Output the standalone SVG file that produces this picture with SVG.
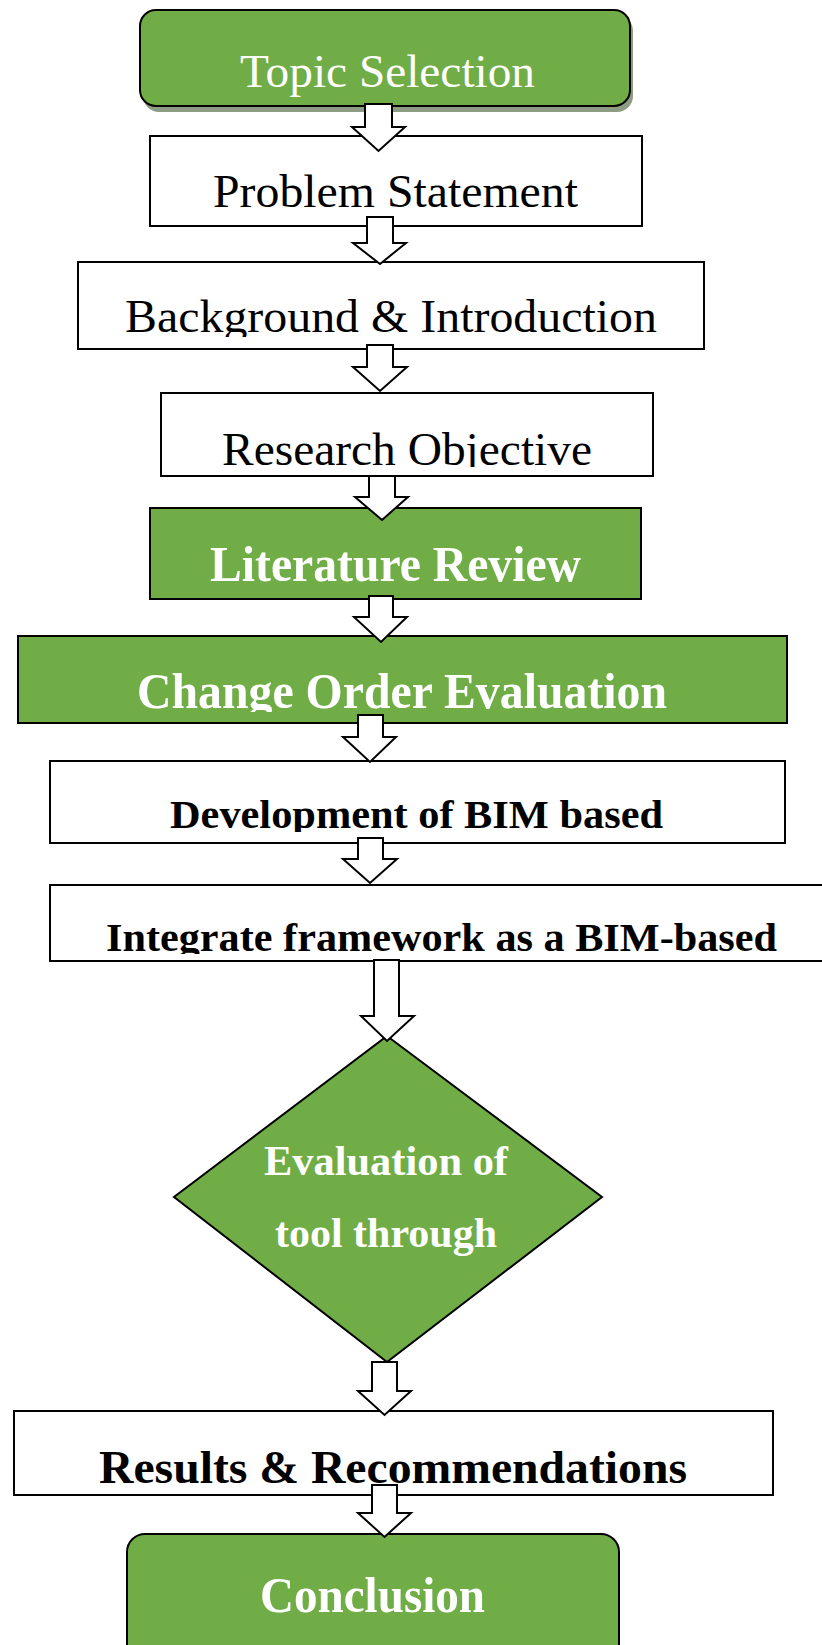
<svg xmlns="http://www.w3.org/2000/svg" width="822" height="1645" viewBox="0 0 822 1645">
  <style>
    .box { fill: #ffffff; stroke: #000000; stroke-width: 2; }
    .green { fill: #70AD47; stroke: #000000; stroke-width: 2; }
    .shadow { fill: #8d9c82; }
    .arrow { fill: #ffffff; stroke: #000000; stroke-width: 2; stroke-linejoin: miter; }
    .reg { font-family: "Liberation Serif", "Times New Roman", serif; fill: #000000; text-anchor: middle; }
    .bold { font-family: "Liberation Serif", "Times New Roman", serif; font-weight: bold; text-anchor: middle; }
    .dark { fill: #000000; }
    .light { fill: #ffffff; }
  </style>
  <defs>
    <!-- text frames cut off the descenders below the baseline -->
    <clipPath id="clipBackground"><rect x="0" y="262" width="822" height="75"/></clipPath>
    <clipPath id="clipResearch"><rect x="0" y="393" width="822" height="74"/></clipPath>
    <clipPath id="clipChange"><rect x="0" y="636" width="822" height="76"/></clipPath>
    <clipPath id="clipDevelopment"><rect x="0" y="761" width="822" height="71"/></clipPath>
    <clipPath id="clipIntegrate"><rect x="0" y="885" width="822" height="69"/></clipPath>
  </defs>

  <g id="topic-selection">
    <rect class="shadow" x="143" y="15" width="490" height="97" rx="16"/>
    <rect class="green" x="140" y="10" width="490" height="96" rx="16"/>
    <text class="reg light" style="fill:#ffffff" x="387.5" y="87" font-size="46" textLength="295" lengthAdjust="spacingAndGlyphs">Topic Selection</text>
  </g>

  <g id="problem-statement">
    <rect class="box" x="150" y="136" width="492" height="90"/>
    <text class="reg" x="395.5" y="207" font-size="47" textLength="365" lengthAdjust="spacingAndGlyphs">Problem Statement</text>
  </g>

  <g id="background-introduction">
    <rect class="box" x="78" y="262" width="626" height="87"/>
    <text class="reg" x="391" y="332" font-size="47" textLength="532" lengthAdjust="spacingAndGlyphs" clip-path="url(#clipBackground)">Background &amp; Introduction</text>
  </g>

  <g id="research-objective">
    <rect class="box" x="161" y="393" width="492" height="83"/>
    <text class="reg" x="407" y="465" font-size="47" textLength="370" lengthAdjust="spacingAndGlyphs" clip-path="url(#clipResearch)">Research Objective</text>
  </g>

  <g id="literature-review">
    <rect class="green" x="150" y="508" width="491" height="91"/>
    <text class="bold light" x="395.5" y="581" font-size="50" textLength="371" lengthAdjust="spacingAndGlyphs">Literature Review</text>
  </g>

  <g id="change-order-evaluation">
    <rect class="green" x="18" y="636" width="769" height="87"/>
    <text class="bold light" x="402" y="708" font-size="50" textLength="530" lengthAdjust="spacingAndGlyphs" clip-path="url(#clipChange)">Change Order Evaluation</text>
  </g>

  <g id="development-bim">
    <rect class="box" x="50" y="761" width="735" height="82"/>
    <text class="bold dark" x="416.5" y="828" font-size="41" textLength="493" lengthAdjust="spacingAndGlyphs" clip-path="url(#clipDevelopment)">Development of BIM based</text>
  </g>

  <g id="integrate-framework">
    <rect class="box" x="50" y="885" width="790" height="76"/>
    <text class="bold dark" x="441.5" y="951" font-size="40" textLength="671" lengthAdjust="spacingAndGlyphs" clip-path="url(#clipIntegrate)">Integrate framework as a BIM-based</text>
  </g>

  <g id="evaluation-decision">
    <polygon class="green" points="387,1036 602,1197 387,1362 174,1197"/>
    <text class="bold light" x="386" y="1175" font-size="42" textLength="244" lengthAdjust="spacingAndGlyphs">Evaluation of</text>
    <text class="bold light" x="386" y="1247" font-size="42" textLength="222" lengthAdjust="spacingAndGlyphs">tool through</text>
  </g>

  <g id="results-recommendations">
    <rect class="box" x="14" y="1411" width="759" height="84"/>
    <text class="bold dark" x="393" y="1483" font-size="47" textLength="588" lengthAdjust="spacingAndGlyphs">Results &amp; Recommendations</text>
  </g>

  <g id="conclusion">
    <rect class="green" x="127" y="1534" width="492" height="140" rx="18"/>
    <text class="bold light" x="372.5" y="1612" font-size="50" textLength="225" lengthAdjust="spacingAndGlyphs">Conclusion</text>
  </g>

  <!-- block arrows between the steps, drawn over the box edges -->
  <g id="connectors">
    <polygon class="arrow" points="365,104 392,104 392,127 405,127 378.5,151 352,127 365,127"/>
    <polygon class="arrow" points="367,217 393,217 393,243 406,243 380,264 353,243 367,243"/>
    <polygon class="arrow" points="367,345 393,345 393,367 407,367 380,391 353,367 367,367"/>
    <polygon class="arrow" points="369,476 395,476 395,497 408,497 382,520 355,497 369,497"/>
    <polygon class="arrow" points="369,596 393,596 393,617 407,617 381,642 354,617 369,617"/>
    <polygon class="arrow" points="358,715 383,715 383,737 396,737 370,762 343,737 358,737"/>
    <polygon class="arrow" points="358,838 383,838 383,859 397,859 370,883 343,859 358,859"/>
    <polygon class="arrow" points="374,960 399,960 399,1016 414,1016 387,1041 361,1016 374,1016"/>
    <polygon class="arrow" points="372,1362 397,1362 397,1391 411,1391 384.5,1415 358,1391 372,1391"/>
    <polygon class="arrow" points="372,1485 397,1485 397,1513 411,1513 384.5,1537 358,1513 372,1513"/>
  </g>
</svg>
